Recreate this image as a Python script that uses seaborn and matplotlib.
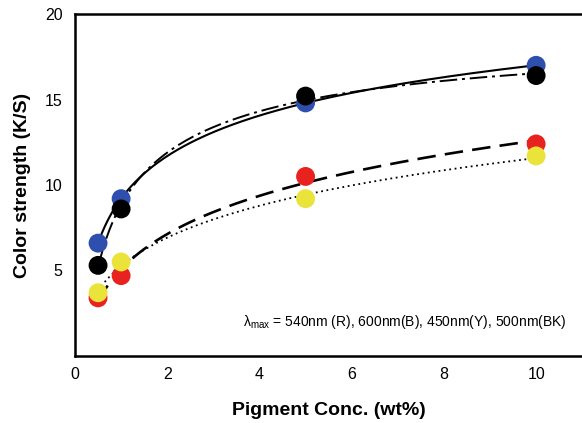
import numpy as np
import pandas as pd
import matplotlib
matplotlib.use("Agg")
import matplotlib.pyplot as plt
import seaborn as sns

# data
conc = [0.5, 1, 5, 10]
red = [3.4, 4.7, 10.5, 12.4]
blue = [6.6, 9.2, 14.8, 17.0]
yellow = [3.7, 5.5, 9.2, 11.7]
black = [5.3, 8.6, 15.2, 16.4]

x_ticks = [0, 2, 4, 6, 8, 10]
y_ticks = [5, 10, 15, 20]
note = r"$\mathrm{\lambda}_{\mathrm{max}}$ = 540nm (R), 600nm(B), 450nm(Y), 500nm(BK)"

sns.set_style("white")
plt.rcParams['font.family'] = ['Liberation Sans', 'DejaVu Sans']
plt.rcParams['mathtext.fontset'] = 'custom'
plt.rcParams['mathtext.rm'] = 'Liberation Sans'
plt.rcParams['text.color'] = 'black'
plt.rcParams['axes.labelcolor'] = 'black'
plt.rcParams['xtick.color'] = 'black'
plt.rcParams['ytick.color'] = 'black'

fig = plt.figure(figsize=(5.82, 4.23), dpi=100)
ax = fig.add_axes([75 / 582, 1 - 356 / 423, 1 - 75 / 582 + 0.002, (356 - 14) / 423])

# (name, values, colour, linestyle, linewidth, marker zorder)
series = [
    ("B", blue, "#2f4fae", "-", 1.5, 3),
    ("BK", black, "#000000", (0, (9, 2.5, 1.5, 2.5)), 1.4, 4),
    ("R", red, "#e8221e", (0, (7, 3.5)), 1.9, 3),
    ("Y", yellow, "#e9e33a", (0, (1, 2)), 1.3, 4),
]

grid = np.linspace(conc[0], conc[-1], 200)
for name, vals, col, ls, lw, z in series:
    # smooth trend: quadratic in log(conc)
    coef = np.polyfit(np.log(conc), vals, 2)
    fit = pd.DataFrame({"x": grid, "y": np.polyval(coef, np.log(grid))})
    sns.lineplot(data=fit, x="x", y="y", color="black", linestyle=ls, lw=lw, ax=ax, zorder=2)

for name, vals, col, ls, lw, z in series:
    pts = pd.DataFrame({"x": conc, "y": vals})
    sns.scatterplot(data=pts, x="x", y="y", color=col, s=185, edgecolor="none", ax=ax, zorder=z)

ax.text(0.968, 0.10, note, transform=ax.transAxes, ha="right", va="center", fontsize=10)

ax.set_xlim(0, 11.02)
ax.set_ylim(0, 20)
ax.set_xticks(x_ticks)
ax.set_yticks(y_ticks)
ax.tick_params(axis="both", length=0, labelsize=11.5)
ax.tick_params(axis="x", pad=8)
ax.tick_params(axis="y", pad=9)
ax.set_xlabel("Pigment Conc. (wt%)", fontsize=14, fontweight="bold", labelpad=14)
ax.set_ylabel("Color strength (K/S)", fontsize=14, fontweight="bold", labelpad=10)

for side in ["left", "top", "bottom"]:
    ax.spines[side].set_linewidth(1.8)
    ax.spines[side].set_color("black")
ax.spines["right"].set_visible(False)

fig.savefig("out.png", dpi=100)
